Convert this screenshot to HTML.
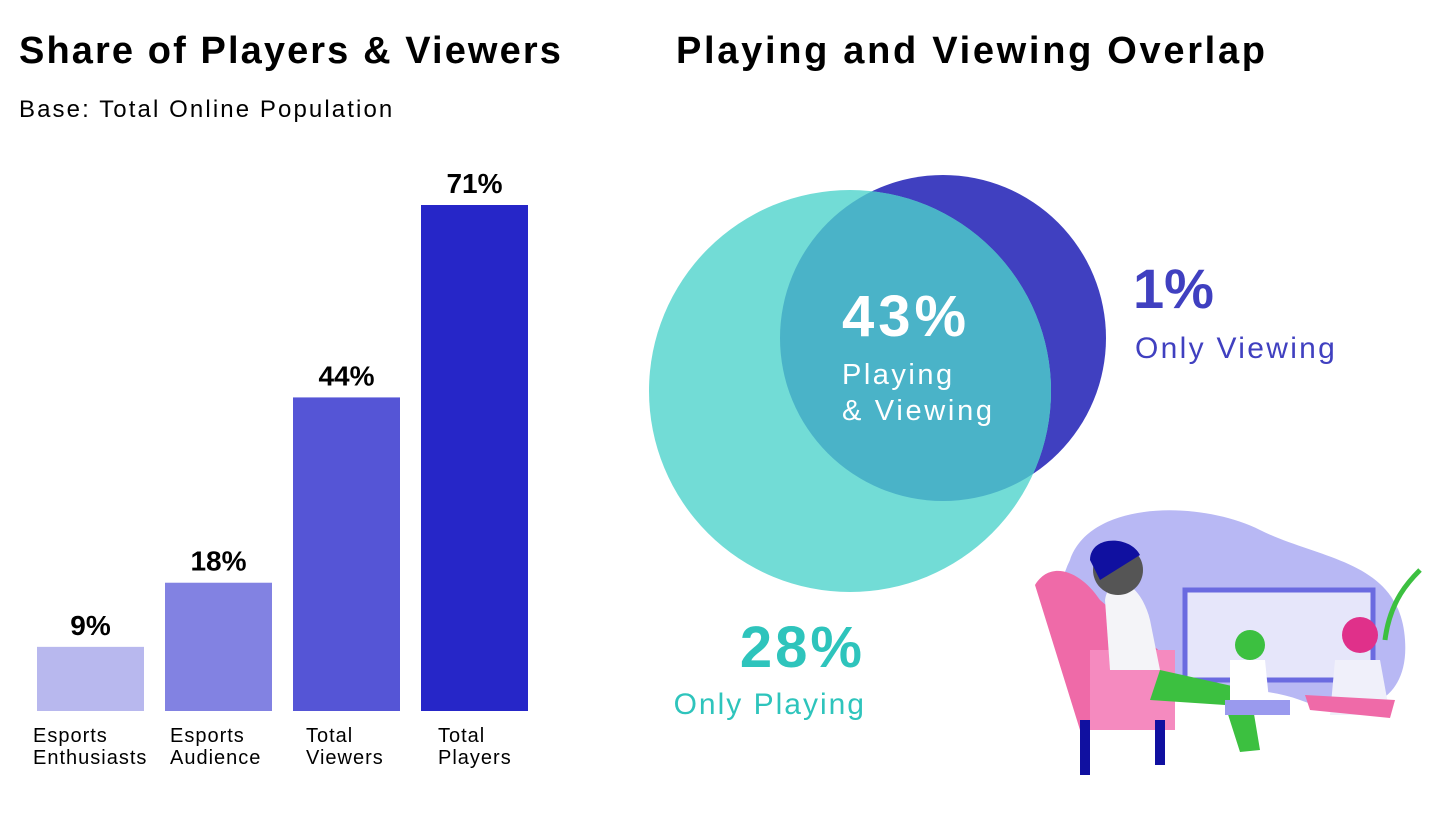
<!DOCTYPE html>
<html><head><meta charset="utf-8"><style>
body{margin:0;width:1456px;height:840px;background:#fff;font-family:"Liberation Sans",sans-serif;overflow:hidden;position:relative}
.t{position:absolute;white-space:nowrap}
</style></head><body>
<div class="t" style="left:19px;top:30px;font-size:38px;font-weight:bold;color:#000;letter-spacing:2.1px">Share of Players &amp; Viewers</div>
<div class="t" style="left:19px;top:96px;font-size:24px;color:#000;letter-spacing:2.1px">Base: Total Online Population</div>
<div class="t" style="left:676px;top:30px;font-size:38px;font-weight:bold;color:#000;letter-spacing:2.7px">Playing and Viewing Overlap</div>
<svg id="bars" width="640" height="840" style="position:absolute;left:0;top:0"></svg>
<svg width="1456" height="840" style="position:absolute;left:0;top:0">
<defs><clipPath id="cp"><circle cx="943" cy="338" r="163"/></clipPath></defs>
<circle cx="943" cy="338" r="163" fill="#4040c0"/>
<circle cx="850" cy="391" r="201" fill="#72dcd6"/>
<circle cx="850" cy="391" r="201" fill="#4ab3c8" clip-path="url(#cp)"/>
<text x="842" y="336" font-size="58" font-weight="bold" fill="#fff" font-family="Liberation Sans" letter-spacing="4">43%</text>
<text x="842" y="384" font-size="29" fill="#fff" font-family="Liberation Sans" letter-spacing="2.5">Playing</text>
<text x="842" y="420" font-size="29" fill="#fff" font-family="Liberation Sans" letter-spacing="2.7">&amp; Viewing</text>
<text x="1133" y="308" font-size="56" font-weight="bold" fill="#4040c0" font-family="Liberation Sans">1%</text>
<text x="1135" y="358" font-size="30" fill="#4040c0" font-family="Liberation Sans" letter-spacing="2.3">Only Viewing</text>
<text x="865" y="667" text-anchor="end" font-size="58" font-weight="bold" fill="#2ec4bc" font-family="Liberation Sans" letter-spacing="3">28%</text>
<text x="866" y="714" text-anchor="end" font-size="30" fill="#2ec4bc" font-family="Liberation Sans" letter-spacing="2">Only Playing</text>
<g>
<path d="M1070 560 C1090 500 1200 500 1260 530 C1320 560 1400 560 1405 640 C1410 710 1350 720 1300 700 C1220 670 1110 720 1080 680 C1060 650 1050 600 1070 560Z" fill="#b8b8f4"/>
<rect x="1185" y="590" width="188" height="90" fill="#e6e6fa" stroke="#6a6ae0" stroke-width="5"/>
<path d="M1035 585 C1050 560 1080 570 1100 600 L1170 660 L1170 730 L1080 730 Z" fill="#ef6aa8"/>
<rect x="1090" y="650" width="85" height="80" fill="#f58abf"/>
<path d="M1105 600 C1110 570 1140 580 1150 620 L1160 670 L1110 670 Z" fill="#f4f4f8"/>
<circle cx="1118" cy="570" r="25" fill="#555"/>
<path d="M1090 560 C1090 535 1130 535 1140 555 L1100 580Z" fill="#1010a0"/>
<path d="M1160 670 L1250 690 L1260 750 L1240 752 L1225 705 L1150 700 Z" fill="#3cc040"/>
<rect x="1080" y="720" width="10" height="55" fill="#1010a0"/>
<rect x="1155" y="720" width="10" height="45" fill="#1010a0"/>
<circle cx="1250" cy="645" r="15" fill="#3cc040"/>
<path d="M1230 660 L1265 660 L1270 710 L1230 710Z" fill="#fff"/>
<path d="M1225 700 L1290 700 L1290 715 L1225 715Z" fill="#9a9aee"/>
<circle cx="1360" cy="635" r="18" fill="#e0308a"/>
<path d="M1335 660 L1380 660 L1390 715 L1330 715Z" fill="#f0f0fa"/>
<path d="M1305 695 L1395 700 L1390 718 L1310 710Z" fill="#ef6aa8"/>
<path d="M1385 640 C1390 600 1410 580 1420 570" stroke="#3cc040" stroke-width="5" fill="none"/>
</g>
</svg>
<script>
const categories=["Esports Enthusiasts","Esports Audience","Total Viewers","Total Players"];
const lines1=["Esports","Esports","Total","Total"];
const lines2=["Enthusiasts","Audience","Viewers","Players"];
const values=[9,18,44,71];
const colors=["#b8b8ee","#8282e2","#5555d6","#2626c8"];
const svg=document.getElementById('bars');
const NS="http://www.w3.org/2000/svg";
const base=711, scale=506/71;
const y=v=>base-v*scale;
const x=i=>37+i*128;
values.forEach((v,i)=>{
 const r=document.createElementNS(NS,'rect');
 
 
 r.setAttribute('x',x(i));r.setAttribute('y',y(v));r.setAttribute('width',107);r.setAttribute('height',base-y(v));r.setAttribute('fill',colors[i]);
 svg.appendChild(r);
 const t=document.createElementNS(NS,'text');
 
 
 t.setAttribute('x',x(i)+53.5);t.setAttribute('y',y(v)-12);t.setAttribute('text-anchor','middle');t.setAttribute('font-size','28');t.setAttribute('font-weight','bold');t.setAttribute('font-family','Liberation Sans');
 t.textContent=v+'%';svg.appendChild(t);
 [lines1[i],lines2[i]].forEach((s,k)=>{
  const l=document.createElementNS(NS,'text');
  
  
  l.setAttribute('x',x(i)+(i==0?-4:i==1?5:i==2?13:17));l.setAttribute('y',742+k*22);l.setAttribute('font-size','20');l.setAttribute('font-family','Liberation Sans');l.setAttribute('letter-spacing','1');
  l.textContent=s;svg.appendChild(l);
 });
});
</script>
</body></html>
